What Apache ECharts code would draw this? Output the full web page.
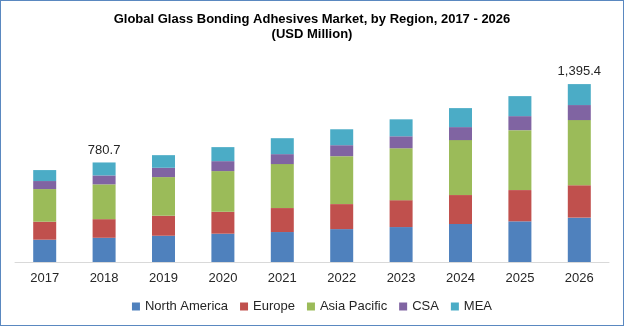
<!DOCTYPE html>
<html>
<head>
<meta charset="utf-8">
<script src="https://cdn.jsdelivr.net/npm/echarts@6/dist/echarts.min.js"></script>
<style>
html,body{margin:0;padding:0;background:#fff;}
#c{width:622px;height:324px;border:1px solid #5a88c0;}
</style>
</head>
<body>
<div id="c"></div>
<script>
const years = ['2017','2018','2019','2020','2021','2022','2023','2024','2025','2026'];
const northAmerica = [175, 190, 206, 222, 235, 258, 274, 298, 319, 348];
const europe       = [141, 146, 157, 172, 188, 196, 211, 227, 245, 254];
const asiaPacific  = [256, 273, 303, 319, 345, 376, 407, 431, 470, 511];
const csa          = [63, 70, 73, 78, 78, 86, 94, 102, 110, 118];
const mea          = [86, 101.7, 99, 110, 125, 125, 133, 149, 157, 164.4];
const labelledYears = ['2018', '2026'];

const totals = years.map((y, i) => northAmerica[i] + europe[i] + asiaPacific[i] + csa[i] + mea[i]);
const fmt = v => v.toLocaleString('en-US', {minimumFractionDigits: 1, maximumFractionDigits: 1});

const chart = echarts.init(document.getElementById('c'));
const base = {type: 'bar', stack: 'total', barWidth: 23};
const meaData = mea.map((v, i) => labelledYears.includes(years[i]) ? {
  value: v,
  label: {show: true, position: 'top', formatter: fmt(totals[i]), color: '#262626',
          fontSize: 13, fontFamily: 'Liberation Sans, Arial, sans-serif', distance: 6}
} : v);

chart.setOption({
  animation: false,
  title: {
    text: 'Global Glass Bonding Adhesives Market, by Region, 2017 - 2026\n(USD Million)',
    left: 'center', top: 6,
    textStyle: {fontSize: 13, fontWeight: 'bold', color: '#000', lineHeight: 15,
                fontFamily: 'Liberation Sans Narrow, Liberation Sans, Arial, sans-serif'}
  },
  legend: {
    bottom: 7, left: 'center', icon: 'rect', itemWidth: 8, itemHeight: 8, itemGap: 12,
    textStyle: {fontSize: 13, color: '#262626', fontFamily: 'Liberation Sans, Arial, sans-serif'},
    data: ['North America', 'Europe', 'Asia Pacific', 'CSA', 'MEA']
  },
  grid: {left: 14, right: 14, top: 57, bottom: 63, containLabel: false},
  xAxis: {
    type: 'category', data: years,
    axisLine: {lineStyle: {color: '#d9d9d9', width: 1}},
    axisTick: {show: false},
    axisLabel: {color: '#262626', fontSize: 13, margin: 10, fontFamily: 'Liberation Sans, Arial, sans-serif'}
  },
  yAxis: {type: 'value', min: 0, max: 1600, show: false, splitLine: {show: false}},
  series: [
    {...base, name: 'North America', data: northAmerica, itemStyle: {color: '#4f81bd'}},
    {...base, name: 'Europe', data: europe, itemStyle: {color: '#c0504d'}},
    {...base, name: 'Asia Pacific', data: asiaPacific, itemStyle: {color: '#9bbb59'}},
    {...base, name: 'CSA', data: csa, itemStyle: {color: '#8064a2'}},
    {...base, name: 'MEA', data: meaData, itemStyle: {color: '#4bacc6'}}
  ]
});
</script>
</body>
</html>
